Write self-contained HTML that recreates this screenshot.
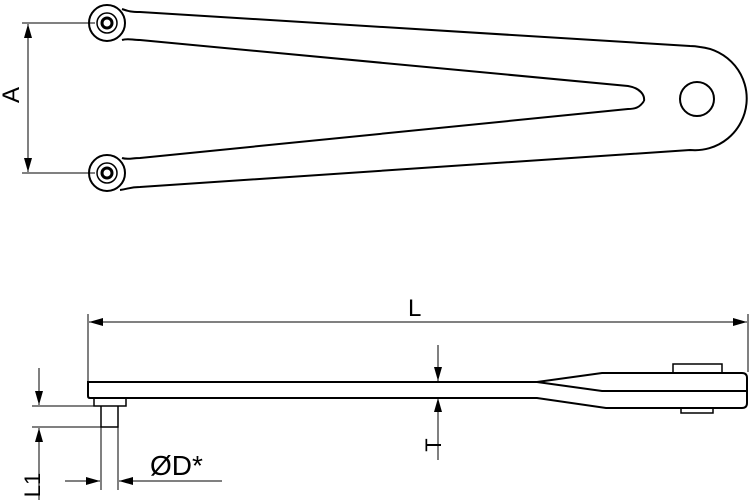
<!DOCTYPE html>
<html><head><style>body{margin:0;background:#fff}svg{display:block}</style></head><body>
<svg width="750" height="502" viewBox="0 0 750 502" xmlns="http://www.w3.org/2000/svg" font-family="Liberation Sans, sans-serif">
<defs>
<marker id="ar2" viewBox="0 0 14 8" refX="14" refY="4" markerWidth="14" markerHeight="8" markerUnits="userSpaceOnUse" orient="auto"><path d="M0,0 L14,4 L0,8z" fill="#000"/></marker></defs>
<g fill="none" stroke="#000" stroke-width="2">
<path d="M122,9 C128,11 130,12 140,12 L690,46 C695,46 700,47 700,47 A51,51 0 0 1 690,150 L140,187 C130,187 128,189 120,190"/>
<path d="M122,40 C128,38 132,40 140,40 L628,86 C640,88 645,95 644,101"/>
<path d="M644,101 C640,107 636,109 628,109 L140,158 C132,158 128,160 122,158"/>
<circle cx="107" cy="23" r="18" stroke-width="2"/>
<circle cx="107" cy="23" r="10" stroke-width="1.5"/>
<circle cx="107" cy="23" r="5" stroke-width="3"/>
<circle cx="107" cy="173" r="18" stroke-width="2"/>
<circle cx="107" cy="173" r="10" stroke-width="1.5"/>
<circle cx="107" cy="173" r="5" stroke-width="3"/>
<circle cx="697" cy="99" r="17"/>
<path d="M88,382 L537,382 L602,373 L742,373 Q747,373 747,378 L747,403 Q747,408 742,408 L606,408 L537,398 L90,398 Q88,398 88,396 Z"/>
<path d="M537,382 L602,391 L747,391"/>
<rect x="673" y="364" width="49" height="9" stroke-width="1.5"/>
<path d="M681,408 L681,413 L713,413 L713,408" stroke-width="1.5"/>
<rect x="94" y="398" width="32" height="8" stroke-width="1.5"/>
<path d="M101,406 L101,427 L118,427 L118,406" stroke-width="1.5"/>
</g>
<g fill="none" stroke="#000" stroke-width="1">
<line x1="22" y1="23" x2="95" y2="23"/><line x1="22" y1="173" x2="95" y2="173"/>
<line x1="28" y1="98" x2="28" y2="24" marker-end="url(#ar2)"/>
<line x1="28" y1="98" x2="28" y2="172" marker-end="url(#ar2)"/>
<line x1="88" y1="314" x2="88" y2="381"/><line x1="748" y1="314" x2="748" y2="372"/>
<line x1="418" y1="322" x2="89" y2="322" marker-end="url(#ar2)"/>
<line x1="418" y1="322" x2="747" y2="322" marker-end="url(#ar2)"/>
<line x1="438" y1="345" x2="438" y2="381" marker-end="url(#ar2)"/>
<line x1="438" y1="460" x2="438" y2="398" marker-end="url(#ar2)"/>
<line x1="32" y1="406" x2="95" y2="406"/><line x1="32" y1="427" x2="101" y2="427"/>
<line x1="39" y1="368" x2="39" y2="405" marker-end="url(#ar2)"/>
<line x1="39" y1="500" x2="39" y2="428" marker-end="url(#ar2)"/>
<line x1="101" y1="427" x2="101" y2="490"/><line x1="118" y1="427" x2="118" y2="490"/>
<line x1="65" y1="481" x2="100" y2="481" marker-end="url(#ar2)"/>
<line x1="222" y1="481" x2="119" y2="481" marker-end="url(#ar2)"/>
</g>
<g fill="#000" font-size="24">
<text x="0" y="0" transform="translate(19,95) rotate(-90)" text-anchor="middle">A</text>
<text x="408" y="316">L</text>
<text x="0" y="0" transform="translate(441,445) rotate(-90)" text-anchor="middle" font-size="22">T</text>
<text x="0" y="0" transform="translate(40,485) rotate(-90)" text-anchor="middle" font-size="22">L1</text>
<text x="150" y="475" font-size="28">ØD*</text>
</g>
</svg>
</body></html>
